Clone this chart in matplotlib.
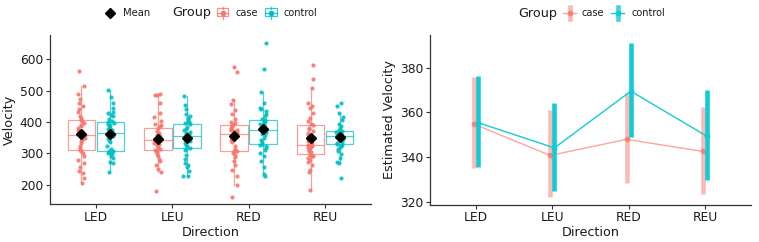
import numpy as np
import matplotlib
matplotlib.use("Agg")
import matplotlib.pyplot as plt
from matplotlib.patches import Rectangle
from matplotlib.lines import Line2D

plt.rcParams['font.family'] = ['DejaVu Sans']

# ---------------- data ----------------
directions = ['LED', 'LEU', 'RED', 'REU']
groups = ['case', 'control']

led_case = [207, 222, 237, 245, 258, 268, 280, 290, 300, 307,
            310, 318, 325, 332, 338, 343, 348, 352, 356, 358,
            362, 365, 370, 375, 380, 386, 392, 398, 402, 406,
            412, 420, 432, 443, 450, 462, 472, 490, 515, 562]
led_control = [240, 268, 272, 285, 292, 298, 301, 303, 305, 306,
               308, 315, 325, 335, 342, 350, 355, 358, 362, 364,
               368, 370, 374, 378, 382, 386, 390, 394, 398, 400,
               404, 410, 418, 422, 428, 432, 445, 462, 480, 502]
leu_case = [180, 242, 250, 262, 275, 283, 292, 298, 303, 307,
            310, 314, 318, 322, 326, 330, 334, 337, 339, 340,
            342, 345, 347, 350, 354, 358, 362, 366, 372, 381,
            386, 392, 395, 402, 415, 430, 462, 485, 487, 490]
leu_control = [227, 229, 245, 258, 262, 270, 282, 295, 310, 315,
               318, 322, 328, 334, 340, 344, 348, 350, 352, 353,
               355, 358, 360, 362, 365, 369, 373, 378, 385, 393,
               398, 400, 404, 408, 412, 418, 425, 440, 455, 482]
red_case = [162, 200, 228, 248, 262, 275, 287, 295, 302, 306,
            309, 315, 325, 335, 343, 350, 355, 358, 360, 360,
            362, 364, 367, 370, 373, 376, 379, 382, 386, 389,
            392, 396, 400, 410, 425, 438, 458, 470, 560, 577]
red_control = [228, 235, 258, 275, 290, 300, 310, 318, 322, 326,
               329, 335, 342, 350, 357, 362, 367, 370, 373, 375,
               377, 380, 383, 386, 390, 394, 398, 401, 404, 407,
               410, 418, 425, 435, 440, 445, 462, 495, 568, 652]
reu_case = [182, 240, 248, 262, 272, 280, 285, 290, 293, 296,
            299, 303, 307, 310, 313, 316, 319, 322, 325, 326,
            328, 332, 338, 350, 358, 366, 372, 378, 382, 389,
            393, 403, 412, 430, 445, 452, 460, 510, 537, 582]
reu_control = [222, 268, 272, 285, 298, 308, 315, 320, 324, 327,
               330, 333, 336, 339, 342, 345, 348, 350, 352, 353,
               355, 357, 359, 361, 363, 364, 366, 368, 369, 370,
               372, 375, 380, 388, 395, 405, 415, 428, 450, 462]

velocity = {
    ('LED', 'case'): led_case, ('LED', 'control'): led_control,
    ('LEU', 'case'): leu_case, ('LEU', 'control'): leu_control,
    ('RED', 'case'): red_case, ('RED', 'control'): red_control,
    ('REU', 'case'): reu_case, ('REU', 'control'): reu_control,
}

# estimated means and confidence limits (right panel)
case_est = [354.8, 340.7, 347.9, 342.5]
case_lo = [335.1, 321.9, 328.4, 323.4]
case_hi = [376.0, 361.0, 368.7, 362.4]
control_est = [355.4, 344.1, 369.5, 349.2]
control_lo = [335.7, 324.9, 348.9, 329.9]
control_hi = [376.3, 364.1, 391.0, 370.0]

# ---------------- style ----------------
C_CASE = '#F8766D'
C_CTRL = '#00BFC4'
C_CTRL_R = '#12CCD4'
AX_COL = '#333333'
TXT = '#1a1a1a'

W, H = 759, 242
fig = plt.figure(figsize=(W / 100, H / 100), dpi=100)


def fx(px):
    return px / W


def fy(py):
    return 1 - py / H


axL = fig.add_axes([fx(50), fy(204.3), 321 / W, (204.3 - 35) / H])
axR = fig.add_axes([fx(430), fy(204.5), 321 / W, (204.5 - 35) / H])

for ax in (axL, axR):
    for s in ('top', 'right'):
        ax.spines[s].set_visible(False)
    for s in ('left', 'bottom'):
        ax.spines[s].set_color(AX_COL)
        ax.spines[s].set_linewidth(0.9)
    ax.tick_params(axis='both', colors=AX_COL, labelcolor=TXT, labelsize=8.8,
                   length=3, width=0.8, pad=2)
    ax.set_facecolor('white')

# ---------------- left panel ----------------
rng = np.random.default_rng(7)
offsets = {'case': -0.19, 'control': 0.19}
colors = {'case': C_CASE, 'control': C_CTRL}
for i, d in enumerate(directions):
    for g in groups:
        vals = np.array(velocity[(d, g)], dtype=float)
        pos = i + offsets[g]
        col = colors[g]
        axL.boxplot([vals], positions=[pos], widths=0.36, showfliers=False,
                    showcaps=False, patch_artist=True, manage_ticks=False,
                    boxprops=dict(facecolor='none', edgecolor=col, linewidth=0.9, alpha=0.7),
                    medianprops=dict(color=col, linewidth=0.9, alpha=0.7),
                    whiskerprops=dict(color=col, linewidth=0.9, alpha=0.7),
                    zorder=2)
        jit = rng.uniform(-0.045, 0.045, size=len(vals))
        axL.scatter(pos + jit, vals, s=9, color=col, alpha=0.9, linewidths=0, zorder=3)
        axL.plot([pos], [vals.mean()], marker='D', color='black', markersize=5,
                 linestyle='none', zorder=4)

axL.set_xlim(-0.6, 3.6)
axL.set_ylim(137.5, 677.5)
axL.set_xticks(range(len(directions)))
axL.set_xticklabels(directions)
axL.set_yticks([200, 300, 400, 500, 600])
axL.set_xlabel('Direction', fontsize=9.2, color=TXT, labelpad=1)
axL.set_ylabel('Velocity', fontsize=9.2, color=TXT, labelpad=3)

# ---------------- right panel ----------------
x = np.arange(len(directions))
dodge = 0.028
xc = x - dodge
xk = x + dodge
axR.vlines(xc, case_lo, case_hi, color=C_CASE, alpha=0.5, linewidth=3.3, zorder=2)
axR.plot(xc, case_est, color=C_CASE, alpha=0.65, linewidth=1.0, zorder=3)
axR.plot(xc, case_est, 'o', color=C_CASE, alpha=0.65, markersize=3.2, zorder=3)
axR.vlines(xk, control_lo, control_hi, color=C_CTRL_R, linewidth=3.3, zorder=4)
axR.plot(xk, control_est, color=C_CTRL_R, linewidth=1.0, zorder=5)
axR.plot(xk, control_est, 'o', color=C_CTRL_R, markersize=3.2, zorder=5)

axR.set_xlim(-0.6, 3.6)
axR.set_ylim(318.7, 394.7)
axR.set_xticks(x)
axR.set_xticklabels(directions)
axR.set_yticks([320, 340, 360, 380])
axR.set_xlabel('Direction', fontsize=9.2, color=TXT, labelpad=1)
axR.set_ylabel('Estimated Velocity', fontsize=9.2, color=TXT, labelpad=3)

# ---------------- legends (figure coordinates) ----------------
ly = 12.5
fig.add_artist(Line2D([fx(110)], [fy(ly)], marker='D', color='black', markersize=5,
                      linestyle='none', transform=fig.transFigure))
fig.text(fx(123), fy(ly), 'Mean', fontsize=7.2, color=TXT, va='center', ha='left')
fig.text(fx(172), fy(ly), 'Group', fontsize=9.2, color=TXT, va='center', ha='left')


def box_key(x0, x1, col):
    fig.add_artist(Rectangle((fx(x0), fy(ly + 4)), fx(x1) - fx(x0), fy(ly - 4) - fy(ly + 4),
                             transform=fig.transFigure, facecolor='none', edgecolor=col,
                             linewidth=0.9, alpha=0.8))
    fig.add_artist(Line2D([fx(x0), fx(x1)], [fy(ly), fy(ly)], color=col, linewidth=0.9,
                          alpha=0.8, transform=fig.transFigure))
    xm = (x0 + x1) / 2
    fig.add_artist(Line2D([fx(xm), fx(xm)], [fy(ly - 6), fy(ly - 4)], color=col, linewidth=0.9,
                          alpha=0.8, transform=fig.transFigure))
    fig.add_artist(Line2D([fx(xm), fx(xm)], [fy(ly + 4), fy(ly + 6)], color=col, linewidth=0.9,
                          alpha=0.8, transform=fig.transFigure))
    fig.add_artist(Line2D([fx(xm)], [fy(ly)], marker='o', color=col, markersize=3,
                          linestyle='none', transform=fig.transFigure))


box_key(217, 228, C_CASE)
fig.text(fx(235), fy(ly), 'case', fontsize=7, color=TXT, va='center', ha='left')
box_key(265, 277, C_CTRL)
fig.text(fx(284), fy(ly), 'control', fontsize=7, color=TXT, va='center', ha='left')

ry = 13.3
fig.text(fx(518), fy(ry), 'Group', fontsize=9.2, color=TXT, va='center', ha='left')


def err_key(xm, col, alpha):
    fig.add_artist(Line2D([fx(xm - 6.5), fx(xm + 6.5)], [fy(ry), fy(ry)], color=col,
                          linewidth=1.0, alpha=alpha, transform=fig.transFigure))
    fig.add_artist(Line2D([fx(xm), fx(xm)], [fy(ry - 6), fy(ry + 6)], color=col,
                          linewidth=3.3, alpha=alpha * 0.8, transform=fig.transFigure))
    fig.add_artist(Line2D([fx(xm)], [fy(ry)], marker='o', color=col, markersize=3.2,
                          alpha=alpha, linestyle='none', transform=fig.transFigure))


err_key(569.5, C_CASE, 0.65)
fig.text(fx(581), fy(ry), 'case', fontsize=7, color=TXT, va='center', ha='left')
err_key(617.5, C_CTRL_R, 1.0)
fig.text(fx(631), fy(ry), 'control', fontsize=7, color=TXT, va='center', ha='left')

fig.savefig('out.png', dpi=100, facecolor='white')
